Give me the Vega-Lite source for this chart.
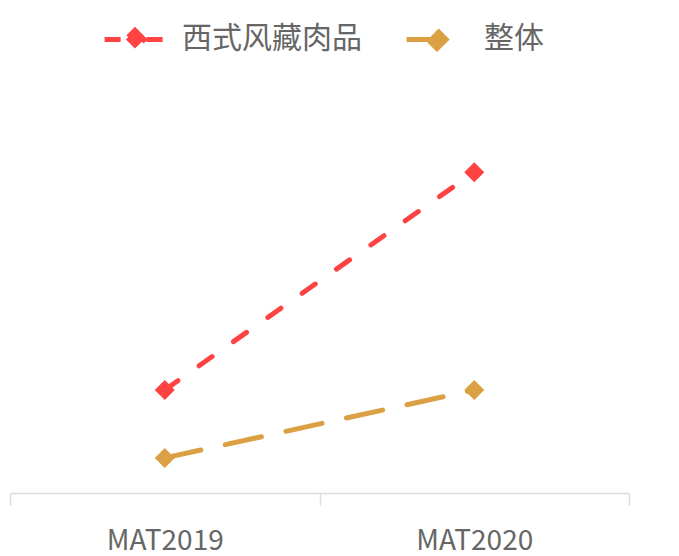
{
  "$schema": "https://vega.github.io/schema/vega-lite/v6.json",
  "width": 619,
  "height": 433,
  "autosize": {"type": "none"},
  "padding": {"left": 10, "top": 60, "right": 50, "bottom": 63},
  "background": "#ffffff",
  "config": {"view": {"stroke": null}, "font": "Noto Sans CJK SC"},
  "data": {
    "values": [
      {"period": "MAT2019", "series": "西式风藏肉品", "value": 23.8},
      {"period": "MAT2020", "series": "西式风藏肉品", "value": 74.1},
      {"period": "MAT2019", "series": "整体", "value": 8.1},
      {"period": "MAT2020", "series": "整体", "value": 23.8}
    ]
  },
  "encoding": {
    "x": {
      "field": "period",
      "type": "nominal",
      "scale": {"paddingInner": 0, "paddingOuter": 0},
      "axis": {
        "title": null,
        "labelAngle": 0,
        "labelFont": "Noto Sans CJK SC",
        "labelFontSize": 28,
        "labelColor": "#666666",
        "labelPadding": 22,
        "domainColor": "#dddddd",
        "domainWidth": 1.5,
        "tickColor": "#dddddd",
        "tickWidth": 1.5,
        "tickSize": 12,
        "tickBand": "extent",
        "grid": false
      }
    },
    "y": {
      "field": "value",
      "type": "quantitative",
      "scale": {"domain": [0, 100]},
      "axis": null
    },
    "color": {
      "field": "series",
      "type": "nominal",
      "scale": {"domain": ["西式风藏肉品", "整体"], "range": ["#ff4242", "#dca044"]},
      "legend": {
        "title": null,
        "orient": "none",
        "legendX": 92,
        "legendY": -54,
        "direction": "horizontal",
        "labelFont": "Noto Sans CJK SC",
        "labelFontSize": 30,
        "labelColor": "#666666",
        "labelLimit": 400,
        "labelOffset": 14,
        "columnPadding": 34,
        "symbolType": "M-1,0H1M0,-0.3L0.3,0L0,0.3L-0.3,0Z",
        "symbolSize": 3700,
        "symbolStrokeWidth": 5,
        "symbolDash": [1, 0],
        "encode": {
          "symbols": {
            "update": {
              "fill": {"scale": "color", "field": "value"},
              "stroke": {"scale": "color", "field": "value"},
              "strokeWidth": {"value": 5},
              "strokeDash": {"value": [1, 0]},
              "opacity": {"value": 1}
            }
          }
        }
      }
    }
  },
  "layer": [
    {
      "mark": {"type": "line", "strokeWidth": 5, "strokeCap": "round"},
      "encoding": {
        "strokeDash": {
          "field": "series",
          "type": "nominal",
          "scale": {"domain": ["西式风藏肉品", "整体"], "range": [[16, 26], [37, 25]]},
          "legend": null
        }
      }
    },
    {
      "mark": {"type": "point", "shape": "diamond", "filled": true, "size": 400, "opacity": 1}
    }
  ]
}
